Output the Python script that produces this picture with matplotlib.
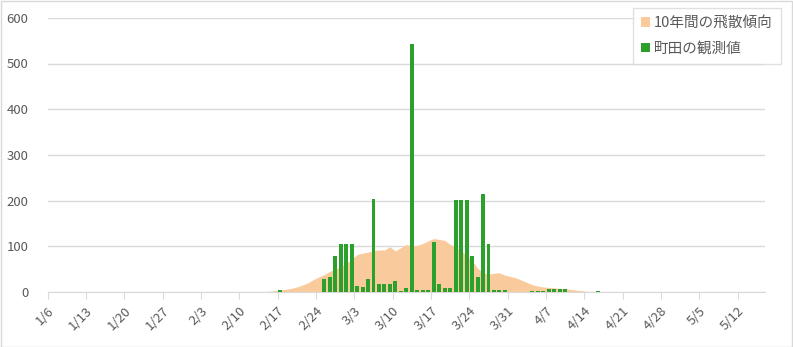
import pandas as pd
import numpy as np
import matplotlib.pyplot as plt
from matplotlib.patches import Rectangle

plt.rcParams['font.family'] = ['Noto Sans CJK JP', 'DejaVu Sans']

# 10-year trend (daily, from 2/13)
trend_start = "2019-02-13"
trend_values = [0, 0.5, 1.5, 3, 4, 6, 8, 11, 15, 20, 27, 33, 38, 45, 50, 56, 62,
                72, 82, 85, 87, 91, 92, 92, 99, 90, 97, 104, 101, 102, 106, 112,
                117, 115, 113, 104, 99, 90, 80, 68, 52, 43, 39, 41, 42, 37, 34,
                31, 26, 21, 16, 13, 11, 10, 9, 8, 7, 6, 4, 3, 1, 0]

# observed values in Machida
obs_dates = ["2/17", "2/25", "2/26", "2/27", "2/28", "3/1", "3/2", "3/3", "3/4",
             "3/5", "3/6", "3/7", "3/8", "3/9", "3/10", "3/11", "3/12", "3/13",
             "3/14", "3/15", "3/16", "3/17", "3/18", "3/19", "3/20", "3/21",
             "3/22", "3/23", "3/24", "3/25", "3/26", "3/27", "3/28", "3/29",
             "3/30", "4/4", "4/5", "4/6", "4/7", "4/8", "4/9", "4/10", "4/16"]
obs_values = [5, 28, 33, 79, 105, 105, 105, 13, 11, 28, 203, 17, 17, 17, 24, 2,
              9, 543, 4, 4, 4, 109, 17, 9, 9, 201, 201, 201, 79, 33, 214, 105,
              4, 4, 4, 2, 2, 2, 6, 6, 6, 6, 2]

x_start = pd.Timestamp("2019-01-06")
x_end = pd.Timestamp("2019-05-17")
tick_dates = pd.date_range(x_start, "2019-05-12", freq="7D")

trend_dates = pd.date_range(trend_start, periods=len(trend_values), freq="D")
trend_x = (trend_dates - x_start).days + 0.5
obs_x = [(pd.Timestamp("2019/" + d) - x_start).days + 0.5 for d in obs_dates]

peach = "#F9CB9C"
green = "#2CA02C"
grey = "#595959"

fig = plt.figure(figsize=(7.93, 3.47), dpi=100)
ax = fig.add_axes([47.7 / 793, 1 - 292 / 347, (765 - 47.7) / 793, (292 - 17.8) / 347])

ax.fill_between(trend_x, trend_values, color=peach, lw=0, label="10年間の飛散傾向", zorder=2)
ax.bar(obs_x, obs_values, width=0.72, color=green, label="町田の観測値", zorder=3)

ax.set_xlim(0, (x_end - x_start).days)
ax.set_ylim(0, 600)
ax.set_yticks(range(0, 601, 100))
ax.yaxis.grid(True, color="#D9D9D9", lw=1)
ax.set_axisbelow(True)

tick_pos = (tick_dates - x_start).days
ax.set_xticks(tick_pos)
ax.set_xticklabels([f"{d.month}/{d.day}" for d in tick_dates], rotation=45,
                   ha="right", va="top", rotation_mode="anchor")
ax.tick_params(axis="x", colors="#D9D9D9", labelcolor=grey, length=5, labelsize=9.5, pad=4)
ax.tick_params(axis="y", length=0, labelcolor=grey, labelsize=9.5, pad=14)

for s in ["top", "right", "left"]:
    ax.spines[s].set_visible(False)
ax.spines["bottom"].set_color("#D9D9D9")

leg = ax.legend(loc="upper right", bbox_to_anchor=(781 / 793, 1 - 8 / 347),
                bbox_transform=fig.transFigure, frameon=True, fancybox=False,
                borderaxespad=0, fontsize=10.5, handlelength=0.6, handleheight=0.6,
                handletextpad=0.3, labelspacing=0.8, borderpad=0.55, labelcolor=grey)
leg.get_frame().set_edgecolor("#D9D9D9")
leg.get_frame().set_linewidth(1)

fig.patches.append(Rectangle((0.5 / 793, 0.5 / 347), 1 - 1.5 / 793, 1 - 1.5 / 347,
                             transform=fig.transFigure, fill=False, ec="#D9D9D9", lw=1))

fig.savefig("out.png", dpi=100)
